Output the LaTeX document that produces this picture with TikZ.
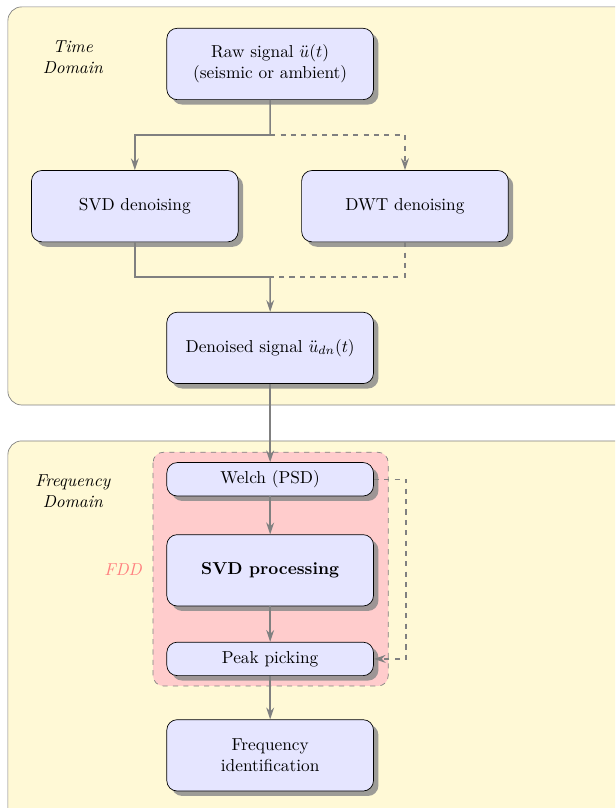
\documentclass[tikz,border=0pt]{standalone}
\usepackage{amsmath,amssymb}
\usetikzlibrary{calc,shadows,arrows.meta,positioning}

\definecolor{panelfill}{RGB}{255,249,214}

\tikzset{
  block/.style={draw, rounded corners=6pt, fill=blue!10,
    drop shadow={shadow xshift=0.1cm, shadow yshift=-0.1cm, fill=black!45, opacity=0.85},
    minimum width=4.2cm, minimum height=1.45cm, align=center},
  smallblock/.style={block, minimum height=0.68cm},
  flow/.style={draw=gray, thick, -{Stealth[length=2.4mm,width=1.6mm]}},
  link/.style={draw=gray, thick},
  panel/.style={draw=gray, fill=panelfill, rounded corners=8pt},
}

\begin{document}
\begin{tikzpicture}
        \clip (0,0) rectangle (12.5,-16.42);

        % два поля: часова і частотна область
        \path[panel] (0.16,-0.14) rectangle (13.5,-8.23);
        \path[panel] (0.16,-8.96) rectangle (13.5,-17.5);

        % область FDD
        \draw[dashed, gray, fill=red!20, rounded corners=6pt] (3.11,-9.19) rectangle (7.89,-13.94);

        \node[font=\itshape, align=center] (td) at (1.48,-1.16) {Time\\Domain};
        \node[font=\itshape, align=center] (fd) at (1.48,-9.98) {Frequency\\Domain};
        \node[font=\itshape, text=red!50] (fdd) at (2.50,-11.57) {FDD};

        \node[block] (raw) at (5.49,-1.30) {Raw signal $\ddot{u}(t)$\\(seismic or ambient)};
        \node[block] (svdd) at (2.74,-4.19) {SVD denoising};
        \node[block] (dwt) at (8.23,-4.19) {DWT denoising};
        \node[block] (den) at (5.49,-7.07) {Denoised signal $\ddot{u}_{dn}(t)$};

        \node[smallblock] (welch) at (5.49,-9.74) {Welch (PSD)};
        \node[block] (svdp) at (5.49,-11.59) {\textbf{SVD processing}};
        \node[smallblock] (peak) at (5.49,-13.39) {Peak picking};
        \node[block] (freq) at (5.49,-15.35) {Frequency\\identification};

        % розгалуження та злиття
        \coordinate (split) at ($(raw.south)!0.5!(raw.south |- svdd.north)$);
        \coordinate (merge) at ($(den.north)!0.5!(den.north |- svdd.south)$);

        \draw[link] (raw.south) -- (split);
        \draw[flow] (split) -| (svdd.north);
        \draw[flow, dashed] (split) -| (dwt.north);
        \draw[link] (svdd.south) |- (merge);
        \draw[link, dashed] (dwt.south) |- (merge);
        \draw[flow] (merge) -- (den.north);

        \draw[flow] (den.south) -- (welch.north);
        \draw[flow] (welch) -- (svdp);
        \draw[flow] (svdp) -- (peak);
        \draw[flow] (peak) -- (freq);

        % обхід SVD
        \coordinate (bypass) at (8.25,0);
        \draw[flow, dashed] (welch.east) -- (bypass |- welch.east) -- (bypass |- peak.east) -- (peak.east);

    \end{tikzpicture}
\end{document}
